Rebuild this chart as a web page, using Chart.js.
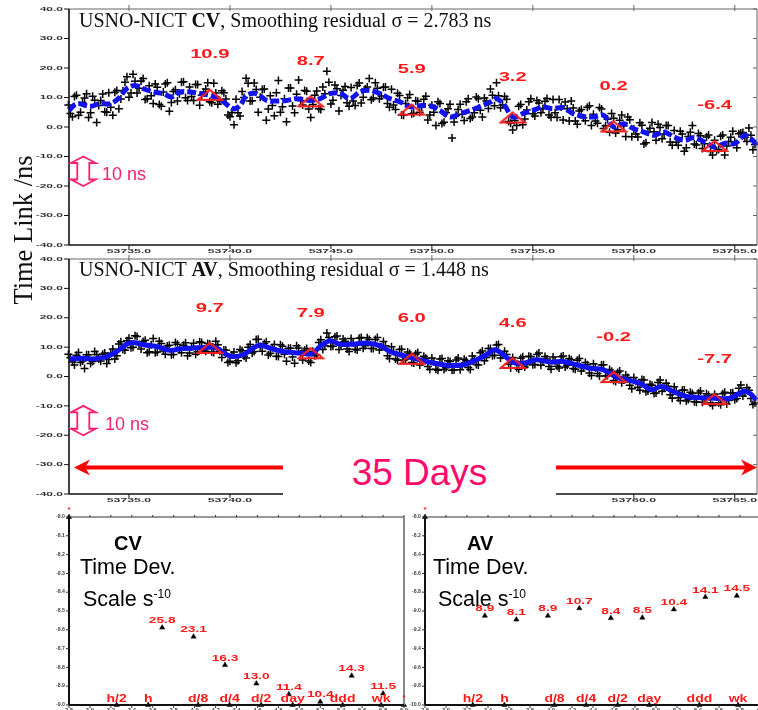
<!DOCTYPE html>
<html><head><meta charset="utf-8"><title>USNO-NICT CV / AV</title>
<script src="https://cdn.jsdelivr.net/npm/chart.js@4.4.1/dist/chart.umd.min.js"></script>
<style>
html,body{margin:0;padding:0;background:#fff;overflow:hidden;}
#wrap{position:relative;width:758px;height:710px;overflow:hidden;background:#fff;}
#wrap canvas{position:absolute;}
.tx{position:absolute;white-space:nowrap;margin:0;}
.serif{font-family:'Liberation Serif','Times New Roman',serif;color:#111;}
.sans{font-family:'Liberation Sans',Arial,sans-serif;}
</style></head><body>
<div id="wrap">
 <canvas id="cvTs" width="758" height="258" style="left:0;top:0"></canvas>
 <canvas id="avTs" width="758" height="260" style="left:0;top:250px"></canvas>
 <canvas id="cvDev" width="420" height="210" style="left:0;top:500px"></canvas>
 <canvas id="avDev" width="370" height="210" style="left:395px;top:500px"></canvas>

 <div class="tx serif" style="left:79px;top:10px;font-size:20px;line-height:20px">USNO-NICT <b>CV</b>, Smoothing residual σ = 2.783 ns</div>
 <div class="tx serif" style="left:79px;top:259px;font-size:20px;line-height:20px">USNO-NICT <b>AV</b>, Smoothing residual σ = 1.448 ns</div>
 <div class="tx serif" style="left:-77px;top:215px;width:200px;text-align:center;font-size:26.5px;line-height:30px;transform:rotate(-90deg)">Time Link /ns</div>

 <div class="tx sans" style="left:102px;top:165px;font-size:18px;line-height:18px;color:#f8206f">10 ns</div>
 <div class="tx sans" style="left:105px;top:415px;font-size:18px;line-height:18px;color:#f8206f">10 ns</div>

 <div class="tx" style="left:283px;top:446px;width:273px;height:56px;background:#fff"></div>
 <div class="tx sans" style="left:283px;top:454px;width:273px;text-align:center;font-size:37px;line-height:37px;color:#ff0a6a">35 Days</div>

 <div class="tx sans" style="left:114px;top:533px;font-size:20px;line-height:20px;font-weight:bold;color:#000">CV</div>
 <div class="tx sans" style="left:80px;top:557px;font-size:21.5px;line-height:21.5px;color:#000">Time Dev.</div>
 <div class="tx sans" style="left:83px;top:584px;font-size:21.5px;line-height:21.5px;color:#000">Scale s<sup style="font-size:12px">-10</sup></div>
 <div class="tx sans" style="left:467px;top:533px;font-size:20px;line-height:20px;font-weight:bold;color:#000">AV</div>
 <div class="tx sans" style="left:433px;top:557px;font-size:21.5px;line-height:21.5px;color:#000">Time Dev.</div>
 <div class="tx sans" style="left:438px;top:584px;font-size:21.5px;line-height:21.5px;color:#000">Scale s<sup style="font-size:12px">-10</sup></div>
</div>
<script>
// ---------------- DATA ----------------
const tsXTicks = ['53735.0','53740.0','53745.0','53750.0','53755.0','53760.0','53765.0'];
const tsYTicks = ['40.0','30.0','20.0','10.0','0.0','-10.0','-20.0','-30.0','-40.0'];

const sampleDays = [
53732.0,53732.2,53732.4,53732.6,53732.8,53733.0,53733.2,53733.4,53733.6,53733.8,
53734.0,53734.2,53734.4,53734.6,53734.8,53735.0,53735.2,53735.4,53735.6,53735.8,
53736.0,53736.2,53736.4,53736.6,53736.8,53737.0,53737.2,53737.4,53737.6,53737.8,
53738.0,53738.2,53738.4,53738.6,53738.8,53739.0,53739.2,53739.4,53739.6,53739.8,
53740.0,53740.2,53740.4,53740.6,53740.8,53741.0,53741.2,53741.4,53741.6,53741.8,
53742.0,53742.2,53742.4,53742.6,53742.8,53743.0,53743.2,53743.4,53743.6,53743.8,
53744.0,53744.2,53744.4,53744.6,53744.8,53745.0,53745.2,53745.4,53745.6,53745.8,
53746.0,53746.2,53746.4,53746.6,53746.8,53747.0,53747.2,53747.4,53747.6,53747.8,
53748.0,53748.2,53748.4,53748.6,53748.8,53749.0,53749.2,53749.4,53749.6,53749.8,
53750.0,53750.2,53750.4,53750.6,53750.8,53751.0,53751.2,53751.4,53751.6,53751.8,
53752.0,53752.2,53752.4,53752.6,53752.8,53753.0,53753.2,53753.4,53753.6,53753.8,
53754.0,53754.2,53754.4,53754.6,53754.8,53755.0,53755.2,53755.4,53755.6,53755.8,
53756.0,53756.2,53756.4,53756.6,53756.8,53757.0,53757.2,53757.4,53757.6,53757.8,
53758.0,53758.2,53758.4,53758.6,53758.8,53759.0,53759.2,53759.4,53759.6,53759.8,
53760.0,53760.2,53760.4,53760.6,53760.8,53761.0,53761.2,53761.4,53761.6,53761.8,
53762.0,53762.2,53762.4,53762.6,53762.8,53763.0,53763.2,53763.4,53763.6,53763.8,
53764.0,53764.2,53764.4,53764.6,53764.8,53765.0,53765.2,53765.4,53765.6,53765.8,
53766.0];
const sampleDays2 = [
53732.1,53732.3,53732.5,53732.7,53732.9,53733.1,53733.3,53733.5,53733.7,53733.9,
53734.1,53734.3,53734.5,53734.7,53734.9,53735.1,53735.3,53735.5,53735.7,53735.9,
53736.1,53736.3,53736.5,53736.7,53736.9,53737.1,53737.3,53737.5,53737.7,53737.9,
53738.1,53738.3,53738.5,53738.7,53738.9,53739.1,53739.3,53739.5,53739.7,53739.9,
53740.1,53740.3,53740.5,53740.7,53740.9,53741.1,53741.3,53741.5,53741.7,53741.9,
53742.1,53742.3,53742.5,53742.7,53742.9,53743.1,53743.3,53743.5,53743.7,53743.9,
53744.1,53744.3,53744.5,53744.7,53744.9,53745.1,53745.3,53745.5,53745.7,53745.9,
53746.1,53746.3,53746.5,53746.7,53746.9,53747.1,53747.3,53747.5,53747.7,53747.9,
53748.1,53748.3,53748.5,53748.7,53748.9,53749.1,53749.3,53749.5,53749.7,53749.9,
53750.1,53750.3,53750.5,53750.7,53750.9,53751.1,53751.3,53751.5,53751.7,53751.9,
53752.1,53752.3,53752.5,53752.7,53752.9,53753.1,53753.3,53753.5,53753.7,53753.9,
53754.1,53754.3,53754.5,53754.7,53754.9,53755.1,53755.3,53755.5,53755.7,53755.9,
53756.1,53756.3,53756.5,53756.7,53756.9,53757.1,53757.3,53757.5,53757.7,53757.9,
53758.1,53758.3,53758.5,53758.7,53758.9,53759.1,53759.3,53759.5,53759.7,53759.9,
53760.1,53760.3,53760.5,53760.7,53760.9,53761.1,53761.3,53761.5,53761.7,53761.9,
53762.1,53762.3,53762.5,53762.7,53762.9,53763.1,53763.3,53763.5,53763.7,53763.9,
53764.1,53764.3,53764.5,53764.7,53764.9,53765.1,53765.3,53765.5,53765.7,53765.9];

const cvSamples = [
7.5,3.5,10.8,5.0,9.8,3.2,10.4,1.5,9.0,5.2,
11.6,4.0,12.4,9.5,15.2,10.1,17.9,11.5,15.6,9.3,
14.0,8.0,13.5,7.0,14.6,5.3,12.0,8.8,15.2,9.9,
13.6,9.0,14.4,10.8,12.9,8.6,14.8,7.7,12.3,9.5,
3.5,0.8,4.8,12.0,16.5,8.8,14.9,5.0,12.7,2.3,
10.6,3.8,15.8,6.9,1.8,13.2,4.8,15.9,7.5,12.1,
3.2,10.8,6.2,13.6,18.9,7.8,14.2,5.4,12.5,8.2,
13.4,7.3,14.9,10.1,13.6,9.2,15.0,9.6,13.5,8.0,
12.8,5.9,10.7,4.0,9.9,4.5,8.9,5.0,9.4,2.4,
7.4,0.5,8.0,1.6,6.2,-3.7,4.0,7.7,2.2,9.6,
3.4,10.2,5.7,9.8,6.3,10.8,15.0,6.5,10.3,1.9,
-1.0,0.5,7.6,2.7,8.6,4.5,9.0,4.8,8.7,4.1,
9.3,3.2,6.8,8.5,2.0,6.4,0.9,5.9,2.1,7.2,
4.3,1.3,6.1,0.4,-1.8,3.0,-0.9,4.1,-3.2,2.5,
-0.7,-3.4,0.6,-5.3,-0.4,-1.6,0.9,-4.0,0.5,-5.1,
-1.2,-6.2,-2.4,-7.0,-1.8,-5.8,-2.2,-7.3,-3.4,-8.3,
-4.5,-7.6,-2.7,-6.4,-3.5,-5.1,-2.3,-1.9,-4.9,-2.8,
-5.9];
const cvSamples2 = [
4.6,10.3,4.0,8.3,11.3,4.8,9.1,7.3,11.2,5.0,
6.7,11.8,6.2,12.3,17.0,11.5,15.5,13.1,16.4,9.6,
10.6,14.6,7.6,11.9,15.0,8.3,12.6,11.3,15.3,9.0,
10.3,14.4,7.4,11.8,15.0,8.2,11.5,8.9,11.6,4.1,
4.9,9.4,3.7,10.0,14.8,8.9,12.7,10.1,12.9,6.1,
7.3,11.6,5.0,9.6,13.2,7.1,11.1,9.0,12.4,6.1,
7.6,12.2,5.9,11.3,15.2,9.1,13.0,10.7,13.7,7.0,
8.8,14.1,8.1,12.9,16.4,9.8,13.1,10.5,13.6,6.7,
7.5,11.4,4.1,8.0,11.0,4.7,8.7,6.8,10.4,4.1,
5.0,8.6,1.2,4.8,7.7,1.7,5.9,4.3,8.6,2.9,
4.8,9.6,3.4,8.8,12.9,7.2,10.6,7.5,9.4,1.3,
2.2,7.0,0.8,5.8,9.6,3.7,8.1,6.3,9.7,3.3,
4.8,9.3,2.4,6.2,8.8,2.0,5.4,3.1,6.7,0.5,
2.0,6.6,-0.5,2.6,4.6,-2.0,2.3,0.4,3.4,-3.3,
-2.4,1.4,-5.8,-1.7,1.5,-4.5,-0.2,-2.4,0.5,-6.2,
-5.2,-1.4,-8.2,-3.2,0.5,-6.1,-3.0,-5.7,-2.7,-9.5,
-8.0,-3.1,-9.5,-4.9,-1.4,-7.0,-2.0,-3.5,-0.3,-7.7];

const avSamples = [
7.6,4.9,7.2,4.8,2.7,7.4,5.1,7.5,5.3,8.0,
5.8,9.4,7.1,11.8,8.9,13.0,10.0,13.6,9.4,12.3,
8.4,12.9,8.3,11.2,7.6,10.6,7.5,11.0,8.1,11.5,
8.0,11.3,8.4,11.6,8.6,11.1,8.2,10.8,6.5,8.9,
5.2,8.3,5.4,8.8,6.3,10.9,8.5,12.7,8.6,11.8,
7.9,10.9,6.8,10.3,5.2,9.6,4.5,9.7,5.6,9.5,
4.8,7.1,11.6,9.2,14.8,10.2,13.5,9.2,12.8,9.4,
12.9,9.3,13.0,9.6,13.2,9.5,12.6,9.0,11.9,7.1,
10.1,6.0,9.2,5.5,8.3,4.8,7.7,3.9,6.9,3.4,
6.3,2.5,6.0,2.4,5.4,2.1,5.6,2.3,5.9,3.1,
7.0,4.1,8.1,5.4,9.5,7.1,10.7,6.3,8.6,4.2,
6.5,3.0,6.2,3.2,6.9,4.0,7.5,3.8,6.8,3.4,
6.6,3.5,6.7,3.2,6.1,2.7,5.5,1.9,4.8,1.2,
4.3,1.0,3.9,0.2,2.4,-1.4,1.4,-2.1,0.5,-3.0,
-0.3,-3.7,-1.0,-5.2,-2.6,-5.8,-2.0,-5.0,-2.3,-6.2,
-3.5,-7.2,-4.7,-8.3,-5.4,-8.6,-5.6,-8.8,-5.9,-9.0,
-6.0,-8.9,-5.9,-9.4,-5.6,-7.9,-4.0,-6.6,-3.8,-7.5,
-9.0];
const avSamples2 = [
6.4,3.9,8.2,5.3,7.4,4.4,8.5,6.0,7.6,4.4,
7.9,6.0,11.1,9.2,12.2,9.8,13.9,10.9,11.9,8.1,
10.8,8.1,12.0,8.7,10.4,7.4,11.6,9.1,10.6,7.1,
10.1,7.6,11.8,9.0,11.2,8.3,12.0,8.6,9.0,4.8,
7.3,4.7,9.2,6.9,10.0,8.0,12.6,10.2,11.2,7.3,
9.8,6.9,10.8,7.6,9.6,6.6,10.5,7.7,8.9,5.3,
8.6,7.2,12.5,10.5,13.3,10.3,13.8,10.7,12.0,8.5,
11.5,9.0,13.3,10.5,12.6,9.5,13.3,10.1,10.5,6.1,
8.5,5.5,9.3,6.0,7.8,4.6,8.2,5.2,6.2,2.4,
5.0,2.1,6.1,3.0,5.1,2.2,6.3,3.7,5.4,2.4,
5.9,3.9,8.7,6.5,9.5,7.2,10.9,7.2,7.5,2.9,
5.2,2.5,6.7,4.1,6.7,4.1,8.0,5.0,6.0,2.5,
5.4,2.9,7.0,3.8,5.7,2.5,6.1,3.0,4.0,0.3,
3.0,0.2,4.0,0.3,1.8,-1.7,1.9,-1.2,-0.3,-4.2,
-1.6,-4.7,-1.2,-4.9,-3.0,-5.6,-1.2,-4.0,-3.3,-7.4,
-5.0,-8.2,-4.6,-7.8,-5.8,-8.8,-4.9,-7.6,-6.4,-9.9,
-7.0,-9.6,-5.4,-8.2,-5.5,-7.5,-2.9,-5.6,-4.7,-9.5];

const cvSmoothDays = [53732.03,53732.41,53733.07,53733.56,53734.06,53734.47,53734.89,53735.30,53735.71,53736.20,
53736.70,53737.11,53737.52,53738.02,53738.51,53739.01,53739.59,53740.16,53740.50,53740.83,
53741.32,53741.82,53742.31,53742.81,53743.30,53743.96,53744.46,53744.95,53745.45,53745.94,
53746.44,53746.93,53747.43,53747.92,53748.42,53748.96,53749.50,53750.00,53750.40,53750.90,
53751.40,53751.90,53752.40,53752.90,53753.20,53753.60,53754.00,53754.50,53755.00,53755.50,
53756.00,53756.50,53757.00,53757.50,53758.00,53758.50,53759.00,53759.50,53760.00,53760.50,
53761.00,53761.50,53762.00,53762.50,53763.00,53763.50,53764.00,53764.50,53765.00,53765.50,
53765.80,53766.10];
const cvSmoothVals = [5.6,7.9,7.0,7.9,7.9,9.6,13.0,14.1,13.0,11.9,
11.3,10.2,11.9,11.9,11.3,10.7,9.0,6.2,7.3,10.7,
11.3,9.0,8.8,9.0,9.6,9.0,9.6,11.3,11.5,9.6,
11.9,12.4,11.3,9.6,8.5,6.8,7.3,7.0,5.6,3.4,
4.5,5.6,7.0,8.5,9.6,7.3,3.4,4.5,5.6,6.8,
6.2,6.6,4.5,3.6,3.4,4.0,0.0,1.1,-0.6,-1.7,
-2.8,-1.7,-3.4,-4.5,-3.6,-5.1,-6.8,-5.6,-5.6,-2.8,
-4.0,-6.2];

const avSmoothDays = [53732.03,53732.57,53733.23,53733.90,53734.39,53734.89,53735.21,53735.71,53736.37,53737.03,
53737.52,53738.18,53738.85,53739.34,53739.84,53740.16,53740.66,53741.15,53741.49,53741.98,
53742.64,53743.47,53744.04,53744.46,53744.95,53745.45,53746.10,53746.77,53747.43,53747.92,
53748.42,53749.07,53749.74,53750.40,53750.89,53751.55,53752.21,53752.70,53753.12,53753.53,
53754.02,53754.52,53755.18,53755.84,53756.50,53757.16,53757.82,53758.48,53759.06,53759.64,
53760.30,53760.87,53761.37,53761.95,53762.61,53763.27,53764.01,53764.75,53765.41,53765.74,
53766.07];
const avSmoothVals = [5.9,6.25,6.0,6.8,8.5,11.0,11.6,10.8,10.2,8.9,
9.4,9.7,9.9,9.7,7.4,6.8,7.4,9.7,10.6,9.7,
8.5,8.0,7.7,10.2,12.2,11.0,11.0,11.4,10.5,8.5,
7.4,6.25,5.1,4.2,3.75,4.0,5.7,7.4,9.1,7.4,
4.9,4.5,5.7,4.9,5.1,4.0,2.8,2.3,0.0,-1.1,
-2.3,-4.5,-3.4,-5.1,-6.8,-7.2,-7.4,-7.4,-5.1,-5.7,
-8.0];

const markDays = [53739,53744,53749,53754,53759,53764];
const cvMarkVals = [10.9,8.7,5.9,3.2,0.2,-6.4];
const avMarkVals = [9.7,7.9,6.0,4.6,-0.2,-7.7];

// Time deviation panels (x: log10 tau [s], y: TDEV in 1e-10 s)
const devXTicks = ['2.8','3.0','3.2','3.4','3.6','3.8','4.0','4.2','4.4','4.6','4.8','5.0','5.2','5.4','5.6','5.8','6.0'];
const cvDevYTicks = ['-8.0','-8.1','-8.2','-8.3','-8.4','-8.5','-8.6','-8.7','-8.8','-8.9','-9.0'];
const avDevYTicks = ['-8.0','-8.2','-8.4','-8.6','-8.8','-9.0','-9.2','-9.4','-9.6','-9.8','-10.0'];
const cvTauLog = [3.69,3.99,4.29,4.59,4.90,5.20,5.50,5.80];
const cvTdev = [25.8,23.1,16.3,13.0,11.4,10.4,14.3,11.5];
const avTauLog = [3.37,3.67,3.97,4.27,4.57,4.87,5.17,5.47,5.77];
const avTdev = [8.9,8.1,8.9,10.7,8.4,8.5,10.4,14.1,14.5];
const tauNames = ['h/2','h','d/8','d/4','d/2','day','ddd','wk'];
const tauSeconds = [1800,3600,10800,21600,43200,86400,259200,604800];

// ---------------- DRAWING HELPERS ----------------
const RED='#ff1a1a', PINK='#f8206f', BLUE='#1212ee';
const SANS="'Liberation Sans', Arial, sans-serif";
function sText(ctx, txt, x, y, px, bold, sx, align, color){
  ctx.save();
  ctx.font=(bold?'bold ':'')+px+'px '+SANS;
  ctx.fillStyle=color; ctx.textBaseline='middle'; ctx.textAlign='left';
  const w=ctx.measureText(txt).width*sx;
  const x0 = align==='center'? x-w/2 : (align==='right'? x-w : x);
  ctx.translate(x0,y); ctx.scale(sx,1); ctx.fillText(txt,0,0);
  ctx.restore();
}
function seg(ctx,x1,y1,x2,y2){ctx.beginPath();ctx.moveTo(x1,y1);ctx.lineTo(x2,y2);ctx.stroke();}
function tenNs(ctx,cx,yT,yB){
  const hw=12.5, sw=6, hh=6.5;
  ctx.save(); ctx.strokeStyle=PINK; ctx.lineWidth=1.8;
  ctx.beginPath();
  ctx.moveTo(cx,yT); ctx.lineTo(cx+hw,yT+hh); ctx.lineTo(cx+sw,yT+hh); ctx.lineTo(cx+sw,yB-hh);
  ctx.lineTo(cx+hw,yB-hh); ctx.lineTo(cx,yB); ctx.lineTo(cx-hw,yB-hh); ctx.lineTo(cx-sw,yB-hh);
  ctx.lineTo(cx-sw,yT+hh); ctx.lineTo(cx-hw,yT+hh); ctx.closePath(); ctx.stroke(); ctx.restore();
}
function arrow(ctx,xFrom,xTip,y){
  const d=Math.sign(xTip-xFrom), hl=16, hh=8;
  ctx.save(); ctx.strokeStyle='#ff0000'; ctx.fillStyle='#ff0000'; ctx.lineWidth=4;
  seg(ctx,xFrom,y,xTip-d*6,y);
  ctx.beginPath(); ctx.moveTo(xTip,y); ctx.lineTo(xTip-d*hl,y-hh); ctx.lineTo(xTip-d*hl*0.7,y);
  ctx.lineTo(xTip-d*hl,y+hh); ctx.closePath(); ctx.fill(); ctx.restore();
}
function triImage(){
  const c=document.createElement('canvas'); c.width=28; c.height=16;
  const g=c.getContext('2d'); g.strokeStyle='#f42020'; g.lineWidth=2.2;
  g.beginPath(); g.moveTo(14,3); g.lineTo(26,13); g.lineTo(2,13); g.closePath(); g.stroke();
  return c;
}
const TRI = triImage();
const XMIN=53732.03, XMAX=53766.1;

function tsDeco(markVals, withArrows){
  return {id:'tsDeco', afterDraw(chart){
    const ctx=chart.ctx, a=chart.chartArea, x=chart.scales.x, y=chart.scales.y;
    ctx.save();
    ctx.strokeStyle='#666'; ctx.lineWidth=1;
    seg(ctx,a.left,a.top,a.right,a.top); seg(ctx,a.right,a.top,a.right,a.bottom);
    ctx.strokeStyle='#111'; ctx.lineWidth=1.6;
    seg(ctx,a.left,a.top,a.left,a.bottom); seg(ctx,a.left,a.bottom,a.right,a.bottom);
    ctx.lineWidth=1;
    tsYTicks.forEach(t=>{
      const py=y.getPixelForValue(parseFloat(t));
      ctx.strokeStyle='#111'; seg(ctx,a.left-5,py,a.left,py);
      ctx.strokeStyle='#666'; seg(ctx,a.right-4,py,a.right,py);
      sText(ctx,t,a.left-6,py,6,true,2.0,'right','#333');
    });
    tsXTicks.forEach(t=>{
      const px=x.getPixelForValue(parseFloat(t));
      ctx.strokeStyle='#111'; seg(ctx,px,a.bottom,px,a.bottom+4);
      ctx.strokeStyle='#666'; seg(ctx,px,a.top-4,px,a.top+2);
      sText(ctx,t,px,a.bottom+6.5,6,true,2.05,'center','#333');
    });
    markVals.forEach((v,i)=>{
      const px=x.getPixelForValue(markDays[i]), py=y.getPixelForValue(v);
      sText(ctx,v.toFixed(1),px,py-40,13,true,1.55,'center',RED);
    });
    tenNs(ctx,a.left+14.3,y.getPixelForValue(-10),y.getPixelForValue(-20));
    if(withArrows){
      const ay=y.getPixelForValue(-31);
      arrow(ctx,283,a.left+5,ay);
      arrow(ctx,556,757,ay);
    }
    ctx.restore();
  }};
}

function tsChart(id,pad,samples,samples2,sDays,sVals,markVals,dashed,withArrows){
  const cross={pointStyle:'cross',pointRadius:4,borderColor:'#000',borderWidth:1.5,clip:false};
  return new Chart(document.getElementById(id),{
    type:'scatter',
    data:{datasets:[
      {label:'marks',data:markDays.map((d,i)=>({x:d,y:markVals[i]})),pointStyle:TRI,pointRadius:8,order:0,clip:false},
      {label:'smooth',type:'line',data:sDays.map((d,i)=>({x:d,y:sVals[i]})),borderColor:BLUE,borderWidth:5,
       pointRadius:0,tension:0.35,borderDash:dashed?[9,3]:[],borderCapStyle:'butt',fill:false,order:1,clip:false},
      Object.assign({label:'samples',data:sampleDays.map((d,i)=>({x:d,y:samples[i]})),order:2},cross),
      Object.assign({label:'samples2',data:sampleDays2.map((d,i)=>({x:d,y:samples2[i]})),order:3},cross)
    ]},
    options:{responsive:false,animation:false,events:[],layout:{padding:pad,autoPadding:false},
      plugins:{legend:{display:false},tooltip:{enabled:false}},
      scales:{x:{type:'linear',display:false,min:XMIN,max:XMAX},y:{type:'linear',display:false,min:-40,max:40}}},
    plugins:[tsDeco(markVals,withArrows)]
  });
}

function devDeco(tauLog,vals,yTicks,yMin,yMax,rightBorder){
  return {id:'devDeco', afterDraw(chart){
    const ctx=chart.ctx, a=chart.chartArea, x=chart.scales.x, y=chart.scales.y;
    ctx.save();
    ctx.strokeStyle='#333'; ctx.lineWidth=1;
    seg(ctx,a.left,a.top,a.right,a.top);
    if(rightBorder){ctx.strokeStyle='#888'; ctx.lineWidth=2; seg(ctx,a.right,a.top,a.right,a.bottom);}
    ctx.strokeStyle='#111'; ctx.lineWidth=2;
    seg(ctx,a.left,a.top,a.left,a.bottom); seg(ctx,a.left,a.bottom,a.right,a.bottom);
    ctx.lineWidth=1;
    yTicks.forEach(t=>{
      const py=y.getPixelForValue(Math.pow(10,parseFloat(t)+10));
      ctx.strokeStyle='#333'; seg(ctx,a.left-3,py,a.left,py);
      sText(ctx,t,a.left-4,py,4.5,true,1.15,'right','#444');
    });
    devXTicks.forEach(t=>{
      const px=x.getPixelForValue(parseFloat(t));
      ctx.strokeStyle='#333'; seg(ctx,px,a.top-2,px,a.top); seg(ctx,px,a.bottom,px,a.bottom+3);
      sText(ctx,t,px,a.bottom+6,4.5,true,1.3,'center','#444');
    });
    vals.forEach((v,i)=>{
      const px=x.getPixelForValue(tauLog[i]), py=y.getPixelForValue(v);
      sText(ctx,v.toFixed(1),px,py-7,9.5,true,1.44,'center',RED);
    });
    tauNames.forEach((n,i)=>{
      const px=x.getPixelForValue(Math.log10(tauSeconds[i]));
      sText(ctx,n,px,a.bottom-6,10,true,1.4,'center',RED);
    });
    [[a.left,a.top],[a.right,a.bottom]].forEach(p=>sText(ctx,'*',p[0],p[1]-7,8,true,1,'center',RED));
    ctx.restore();
  }};
}

function devChart(id,pad,tauLog,vals,yMin,yMax,yTicks,rightBorder){
  const tri={pointStyle:'triangle',pointRadius:3,backgroundColor:'#000',borderColor:'#000',borderWidth:0.5,clip:false};
  return new Chart(document.getElementById(id),{
    type:'scatter',
    data:{datasets:[
      Object.assign({label:'tdev',data:tauLog.map((t,i)=>({x:t,y:vals[i]}))},tri),
      Object.assign({label:'tau',data:tauSeconds.map(s=>({x:Math.log10(s),y:yMin}))},tri),
      Object.assign({label:'corners',data:[{x:2.8,y:yMax},{x:6.0,y:yMin}]},tri)
    ]},
    options:{responsive:false,animation:false,events:[],layout:{padding:pad,autoPadding:false},
      plugins:{legend:{display:false},tooltip:{enabled:false}},
      scales:{x:{type:'linear',display:false,min:2.8,max:6.0},y:{type:'logarithmic',display:false,min:yMin,max:yMax}}},
    plugins:[devDeco(tauLog,vals,yTicks,yMin,yMax,rightBorder)]
  });
}

tsChart('cvTs',{left:69,top:9,right:1,bottom:13},cvSamples,cvSamples2,cvSmoothDays,cvSmoothVals,cvMarkVals,true,false);
tsChart('avTs',{left:69,top:9,right:1,bottom:16},avSamples,avSamples2,avSmoothDays,avSmoothVals,avMarkVals,false,true);
devChart('cvDev',{left:69,top:17,right:16,bottom:5},cvTauLog,cvTdev,10,100,cvDevYTicks,true);
devChart('avDev',{left:30,top:17,right:4,bottom:5},avTauLog,avTdev,1,100,avDevYTicks,false);
</script>
</body></html>
